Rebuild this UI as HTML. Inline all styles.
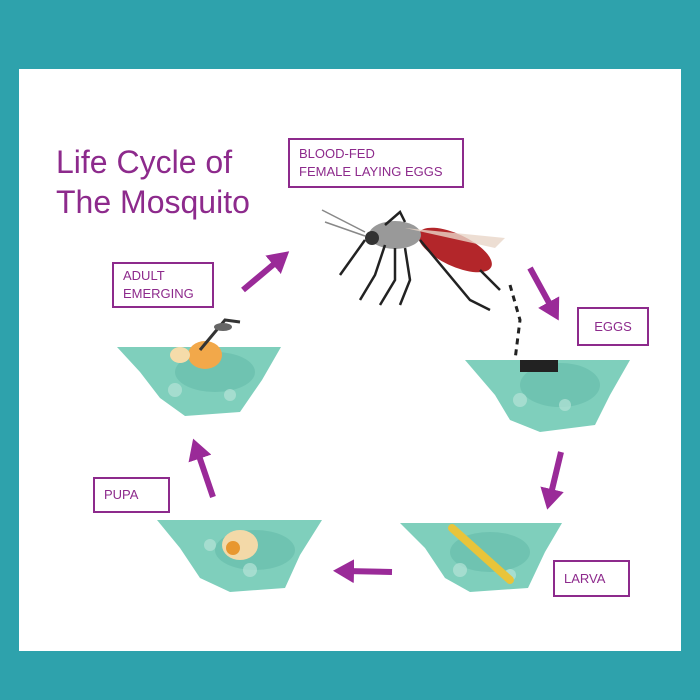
<!DOCTYPE html>
<html><head><style>
body{margin:0;width:700px;height:700px;background:#2ea2ac;position:relative;overflow:hidden;font-family:"Liberation Sans",sans-serif}
.panel{position:absolute;left:19px;top:69px;width:662px;height:582px;background:#fff}
.box{position:absolute;border:2px solid #8d2a8c;color:#8d2a8c;font-size:13px;line-height:18px;padding:0 9px;box-sizing:border-box;display:flex;flex-direction:column;justify-content:center}
.title{position:absolute;left:56px;top:142px;color:#8d2a8c;font-size:32px;line-height:40px}
svg{position:absolute;left:0;top:0}
</style></head><body>
<div class="panel"></div>
<div class="title">Life Cycle of<br>The Mosquito</div>
<div class="box" style="left:288px;top:138px;width:176px;height:50px">BLOOD-FED<br>FEMALE LAYING EGGS</div>
<div class="box" style="left:577px;top:307px;width:72px;height:39px;align-items:center">EGGS</div>
<div class="box" style="left:112px;top:262px;width:102px;height:46px">ADULT<br>EMERGING</div>
<div class="box" style="left:93px;top:477px;width:77px;height:36px">PUPA</div>
<div class="box" style="left:553px;top:560px;width:77px;height:37px">LARVA</div>
<svg width="700" height="700" viewBox="0 0 700 700">
<defs><marker id="a" markerWidth="4" markerHeight="4" refX="1.5" refY="2" orient="auto"><path d="M0,0 L3.5,2 L0,4z" fill="#9a2a98"/></marker></defs>
<g stroke="#9a2a98" stroke-width="6" marker-end="url(#a)" fill="none">
<line x1="243" y1="290" x2="280" y2="259"/>
<line x1="530" y1="268" x2="553" y2="310"/>
<line x1="561" y1="452" x2="550" y2="498"/>
<line x1="392" y1="572" x2="345" y2="571"/>
<line x1="213" y1="497" x2="197" y2="450"/>
</g>
<g fill="#7fcfbc">
<path d="M465,360 L630,360 L610,395 L595,425 L540,432 L510,420 L495,395 Z"/>
<path d="M117,347 L281,347 L262,380 L240,412 L185,416 L160,398 L140,372 Z"/>
<path d="M157,520 L322,520 L300,555 L285,588 L230,592 L200,578 L180,548 Z"/>
<path d="M400,523 L562,523 L545,552 L528,588 L470,592 L445,578 L425,548 Z"/>
</g>
<g fill="#5fb8a6" opacity=".5">
<ellipse cx="560" cy="385" rx="40" ry="22"/><ellipse cx="215" cy="372" rx="40" ry="20"/><ellipse cx="255" cy="550" rx="40" ry="20"/><ellipse cx="490" cy="552" rx="40" ry="20"/>
</g>
<g fill="#b6e4d8" opacity=".7">
<circle cx="520" cy="400" r="7"/><circle cx="565" cy="405" r="6"/><circle cx="175" cy="390" r="7"/><circle cx="230" cy="395" r="6"/>
<circle cx="210" cy="545" r="6"/><circle cx="250" cy="570" r="7"/><circle cx="460" cy="570" r="7"/><circle cx="510" cy="575" r="6"/>
</g>
<rect x="520" y="360" width="38" height="12" fill="#222"/>
<ellipse cx="455" cy="250" rx="40" ry="16" fill="#b3262a" transform="rotate(25 455 250)"/>
<ellipse cx="395" cy="235" rx="26" ry="14" fill="#999"/>
<circle cx="372" cy="238" r="7" fill="#333"/>
<path d="M405,228 L505,238 L495,248 Z" fill="#e8d6c8" opacity=".8"/>
<g stroke="#222" stroke-width="2.5" fill="none">
<path d="M365,240 L340,275"/><path d="M385,245 L375,275 L360,300"/><path d="M395,248 L395,280 L380,305"/><path d="M405,248 L410,280 L400,305"/>
<path d="M420,240 L470,300 L490,310"/><path d="M480,270 L500,290"/><path d="M385,225 L400,212 L405,222"/>
</g>
<path d="M510,285 L520,320 L515,360" stroke="#222" stroke-width="3" stroke-dasharray="6 5" fill="none"/>
<g stroke="#888" stroke-width="1.5"><line x1="365" y1="232" x2="322" y2="210"/><line x1="365" y1="236" x2="325" y2="222"/></g>
<ellipse cx="205" cy="355" rx="17" ry="14" fill="#f2a84a"/>
<ellipse cx="180" cy="355" rx="10" ry="8" fill="#f5dcaa"/>
<path d="M200,350 L225,320 L240,322" stroke="#333" stroke-width="3" fill="none"/>
<ellipse cx="223" cy="327" rx="9" ry="4" fill="#666"/>
<ellipse cx="240" cy="545" rx="18" ry="15" fill="#f3d9a8"/>
<circle cx="233" cy="548" r="7" fill="#e8972f"/>
<path d="M452,528 L510,580" stroke="#e9c43a" stroke-width="8" stroke-linecap="round"/>
</svg>
</body></html>
